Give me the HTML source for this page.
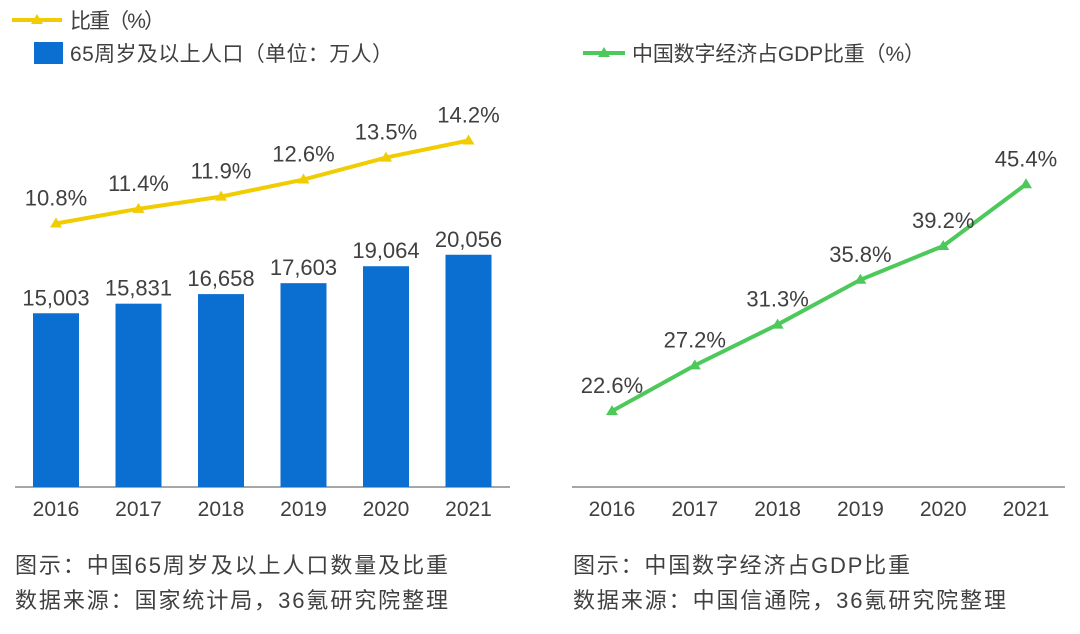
<!DOCTYPE html>
<html><head><meta charset="utf-8"><style>
body{margin:0;background:#fff;width:1080px;height:629px;overflow:hidden}
svg text{font-family:"Liberation Sans","Noto Sans CJK SC",sans-serif;fill:#404040}
</style></head><body>
<svg id="c" width="1080" height="629" xmlns="http://www.w3.org/2000/svg">
<g>
<line x1="12" y1="20" x2="62" y2="20" stroke="#F0CC00" stroke-width="4"/>
<path d="M37 14 L43 24 L31 24Z" fill="#F0CC00"/>
<text x="70" y="28" font-size="21" textLength="95">比重（%）</text></g>
<g>
<rect x="34" y="42" width="29" height="22" fill="#0A6FD0"/>
<text x="70" y="61" font-size="21" textLength="323">65周岁及以上人口（单位：万人）</text></g>
<g>
<line x1="583" y1="53" x2="625" y2="53" stroke="#4CC95A" stroke-width="4"/>
<path d="M604 47 L610 57 L598 57Z" fill="#4CC95A"/>
<text x="632" y="61" font-size="21" textLength="293">中国数字经济占GDP比重（%）</text></g>
<line x1="15" y1="487" x2="510" y2="487" stroke="#888" stroke-width="1.5"/>
<line x1="572" y1="487" x2="1065" y2="487" stroke="#888" stroke-width="1.5"/>
<text x="15" y="573" font-size="22" textLength="433">图示：中国65周岁及以上人口数量及比重</text>
<text x="15" y="608" font-size="22" textLength="433">数据来源：国家统计局，36氪研究院整理</text>
<text x="573" y="573" font-size="22" textLength="337">图示：中国数字经济占GDP比重</text>
<text x="573" y="608" font-size="22" textLength="433">数据来源：中国信通院，36氪研究院整理</text>
</svg>
<script>
const years=["2016","2017","2018","2019","2020","2021"];
const population=[15003,15831,16658,17603,19064,20056];
const populationLabels=["15,003","15,831","16,658","17,603","19,064","20,056"];
const ratio=[10.8,11.4,11.9,12.6,13.5,14.2];
const digital=[22.6,27.2,31.3,35.8,39.2,45.4];
const NS="http://www.w3.org/2000/svg",svg=document.getElementById('c');
function mk(t,a,txt){const e=document.createElementNS(NS,t);for(const k in a)e.setAttribute(k,a[k]);if(txt!==undefined)e.textContent=txt;svg.appendChild(e);return e;}
const lx=i=>56+i*82.5, byPop=v=>487-v*0.01158, yRatio=v=>487-v*24.4;
const rx=i=>612+i*82.8, yDig=v=>636-v*9.95;
years.forEach((y,i)=>{
 const b=mk('rect',{x:lx(i)-23,y:byPop(population[i]),width:46,height:487-byPop(population[i]),fill:'#0A6FD0'});
 
 
 const t=mk('text',{x:lx(i),y:byPop(population[i])-8,'font-size':22,'text-anchor':'middle'},populationLabels[i]);
 
 
 const a=mk('text',{x:lx(i),y:516,'font-size':21,'text-anchor':'middle'},y);
 
 
 const a2=mk('text',{x:rx(i),y:516,'font-size':21,'text-anchor':'middle'},y);
 
 
});
function line(xf,yf,data,color,name){
 const p=mk('polyline',{points:data.map((v,i)=>xf(i)+','+yf(v)).join(' '),fill:'none',stroke:color,'stroke-width':4});
 
 
 data.forEach((v,i)=>{
  const x=xf(i),y=yf(v);
  const m=mk('path',{d:`M${x} ${y-6} L${x+6} ${y+4} L${x-6} ${y+4}Z`,fill:color});
  
  
  const t=mk('text',{x:x,y:y-18,'font-size':22,'text-anchor':'middle'},v.toFixed(1)+'%');
  
  
 });
}
line(lx,yRatio,ratio,'#F0CC00','ratio');
line(rx,yDig,digital,'#4CC95A','digital');
</script>
</body></html>
